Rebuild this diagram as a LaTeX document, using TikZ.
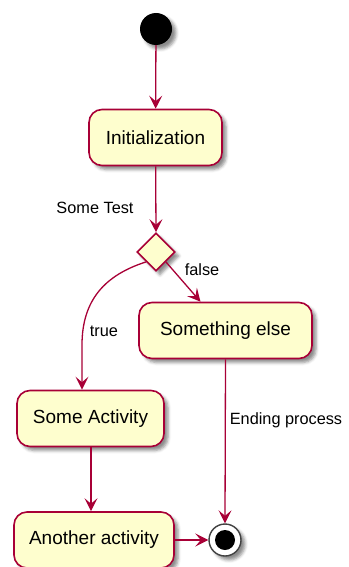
\documentclass[tikz,border=0pt]{standalone}
\usepackage{fontspec}
\setmainfont{Liberation Sans}
\usetikzlibrary{arrows.meta,shadows.blur,shapes.geometric}
\definecolor{umlred}{HTML}{A80036}
\definecolor{umlfill}{HTML}{FEFECE}
\tikzset{
  shad/.style={blur shadow={shadow xshift=4pt,shadow yshift=-4pt,shadow blur radius=3pt,shadow opacity=45}},
  act/.style={rectangle,rounded corners=13pt,draw=umlred,fill=umlfill,line width=1.6pt,
    minimum height=56pt,font=\fontsize{19}{22}\selectfont,shad},
  dec/.style={diamond,draw=umlred,fill=umlfill,line width=1.6pt,minimum width=38pt,minimum height=38pt,inner sep=0pt,shad},
  conn/.style={draw=umlred,line width=1.3pt,-{Stealth[length=13pt,width=13pt,inset=5.5pt]}},
  lbl/.style={font=\fontsize{16.3}{19}\selectfont,text=black,inner sep=0pt}
}
\begin{document}
\begin{tikzpicture}[x=1pt,y=-1pt]
\useasboundingbox (0,0) rectangle (348,567);
\node[circle,fill=black,minimum size=32pt,inner sep=0pt,shad] (start) at (156,29) {};
\node[act,minimum width=133pt] (init) at (155.5,137.5) {Initialization};
\node[dec] (d) at (156,252) {};
\node[act,minimum width=173pt] (else) at (225.5,330.5) {Something else};
\node[act,minimum width=147pt] (sa) at (90.5,418.5) {Some Activity};
\node[act,minimum width=160pt] (aa) at (94,540) {Another activity};
\node[circle,draw=black!75,line width=1.4pt,fill=white,minimum size=32pt,inner sep=0pt,shad] (end) at (225,540) {};
\node[circle,fill=black,minimum size=20pt,inner sep=0pt] (endin) at (end) {};

\node[lbl] (tst) at (95,208) {Some Test};
\node[lbl] (fl) at (202,270) {false};
\node[lbl] (tr) at (104,331) {true};
\node[lbl] (ep) at (286,420) {Ending process};

\draw[conn] (start) -- (init);
\draw[conn] (init) -- (d.north);
\draw[conn] (d.south east) -- ([xshift=-25pt]else.north);
\draw[conn] (d.south west) .. controls (105,275) and (82,300) .. (82,345) -- ([xshift=-8.5pt]sa.north);
\draw[conn] ([xshift=0.5pt]sa.south) -- ([xshift=-3pt]aa.north);
\draw[conn] (aa.east) -- (end.west);
\draw[conn] (else.south) -- (end.north);
\end{tikzpicture}
\end{document}
